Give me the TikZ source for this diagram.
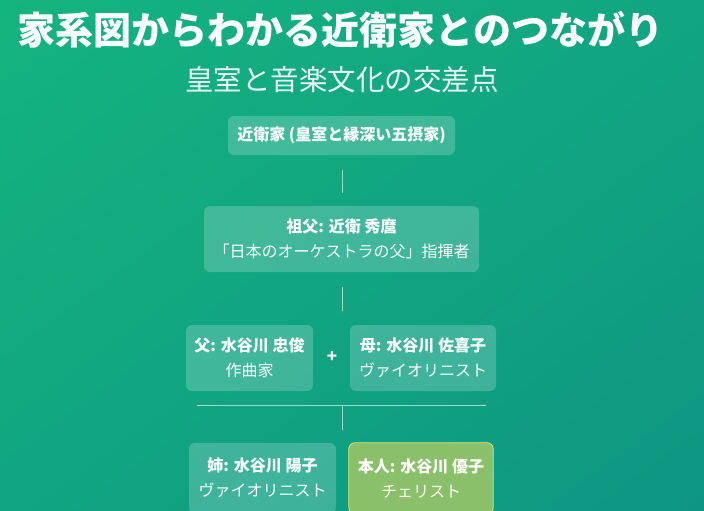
\documentclass[tikz,border=0pt]{standalone}
\usepackage{fontspec}
\usetikzlibrary{shadings}
\setmainfont{Noto Sans CJK JP}
\definecolor{bgA}{HTML}{14B47E}
\definecolor{bgB}{HTML}{0E9683}
\definecolor{bgM}{HTML}{11A581}
\definecolor{meF}{HTML}{8BC06A}
\definecolor{meB}{HTML}{E2E86A}
\definecolor{lineC}{HTML}{9ED9C8}
\begin{document}
\begin{tikzpicture}[x=1pt,y=-1pt,
  box/.style={fill=white,fill opacity=0.2,text opacity=1,text=white,rounded corners=6pt,align=center,inner sep=0pt,font=\fontsize{16}{25}\selectfont},
  conn/.style={draw=lineC,line width=0.8pt}]
\shade[upper left=bgA, upper right=bgM, lower left=bgM, lower right=bgB] (0,0) rectangle (704,511);
\useasboundingbox (0,0) rectangle (704,511);
\node[text=white,font=\fontsize{38}{44}\selectfont\bfseries,anchor=west] (title) at (14,30) {家系図からわかる近衛家とのつながり};
\node[text=white!92!teal,font=\fontsize{28.5}{32}\selectfont] (sub) at (342,80) {皇室と音楽文化の交差点};
\node[box,minimum width=227pt,minimum height=39pt] (top) at (341.5,135.5) {\bfseries 近衛家 (皇室と縁深い五摂家)};
\node[box,minimum width=275pt,minimum height=66pt] (gf) at (341.5,239) {\bfseries 祖父: 近衛 秀麿\\「日本のオーケストラの父」指揮者};
\node[box,minimum width=127pt,minimum height=66pt] (fa) at (249.5,358) {\bfseries 父: 水谷川 忠俊\\作曲家};
\node[box,minimum width=146pt,minimum height=66pt] (mo) at (423,358) {\bfseries 母: 水谷川 佐喜子\\ヴァイオリニスト};
\node[text=white,font=\fontsize{17}{18}\selectfont\bfseries] (plus) at (332,357) {+};
\node[box,minimum width=147pt,minimum height=70pt] (si) at (262.5,478) {\bfseries 姉: 水谷川 陽子\\ヴァイオリニスト};
\node[box,fill=none,minimum width=144pt,minimum height=70pt] (me) at (421,478) {};
\fill[rounded corners=6pt,fill=meF,draw=meB,line width=0.8pt] (me.south west) rectangle (me.north east);
\node[text=white,align=center,font=\fontsize{16}{25}\selectfont] (met) at (me.center) {\bfseries 本人: 水谷川 優子\\チェリスト};
\coordinate (a1) at (342,170); \coordinate (a2) at (342,193);
\coordinate (b1) at (342,287); \coordinate (b2) at (342,311);
\coordinate (h1) at (197,405); \coordinate (h2) at (486,405);
\coordinate (c1) at (342,405); \coordinate (c2) at (342,430);
\draw[conn] (a1) -- (a2);
\draw[conn] (b1) -- (b2);
\draw[conn] (h1) -- (h2);
\draw[conn] (c1) -- (c2);
\end{tikzpicture}
\end{document}
